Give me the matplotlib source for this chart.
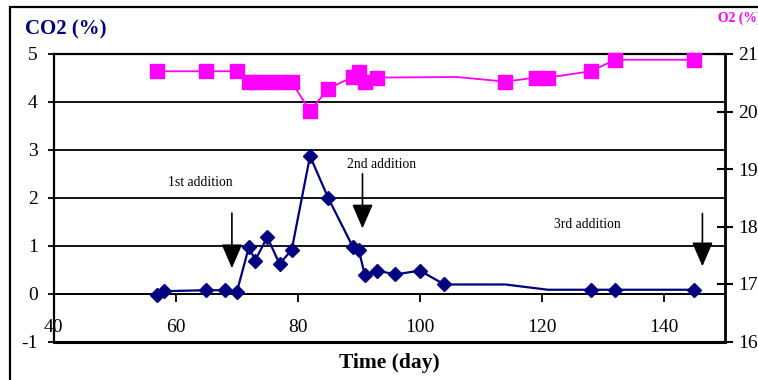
import matplotlib
matplotlib.use("Agg")
import matplotlib.pyplot as plt
from matplotlib.patches import Rectangle

plt.rcParams['font.family'] = ['Liberation Serif', 'DejaVu Serif']
plt.rcParams['axes.unicode_minus'] = False

# ---- data ----
co2_days = [57, 58, 65, 68, 70, 72, 73, 75, 77, 79, 82, 85, 89, 90, 91, 93, 96, 100, 104, 114, 121, 128, 132, 145]
co2_vals = [-0.03, 0.05, 0.07, 0.07, 0.03, 0.98, 0.69, 1.18, 0.62, 0.91, 2.87, 1.99, 0.98, 0.90, 0.38, 0.48,
            0.40, 0.48, 0.19, 0.19, 0.08, 0.08, 0.08, 0.08]
co2_marked = [True] * 19 + [False, False] + [True] * 3

o2_days = [57, 65, 70, 72, 73, 75, 77, 79, 82, 85, 89, 90, 91, 93, 106, 114, 119, 121, 128, 132, 145]
o2_vals = [20.70, 20.70, 20.70, 20.51, 20.51, 20.51, 20.51, 20.51, 20.01, 20.40, 20.60, 20.69, 20.52, 20.59,
           20.60, 20.52, 20.59, 20.59, 20.70, 20.90, 20.90]
o2_marked = [True] * 14 + [False] + [True] * 6

x_ticks = [40, 60, 80, 100, 120, 140]
co2_ticks = [-1, 0, 1, 2, 3, 4, 5]
o2_ticks = [16, 17, 18, 19, 20, 21]

additions = ["1st addition", "2nd addition", "3rd addition"]
add_day = [69.2, 90.6, 146.3]
add_top = [1.68, 2.50, 1.67]
add_tip = [0.53, 1.36, 0.57]
label_x = [64.1, 93.7, 127.5]
label_y = [2.31, 2.69, 1.44]

NAVY = '#000080'
MAGENTA = '#FF00FF'

W, H = 758, 380
fig = plt.figure(figsize=(W / 100, H / 100), dpi=100)
L, R, T, B = 53.7, 725.0, 54.0, 341.5
ax = fig.add_axes([L / W, 1 - B / H, (R - L) / W, (B - T) / H])
ax.set_xlim(40, 150)
ax.set_ylim(-1, 5)
ax.set_axisbelow(True)

# gridlines
ax.set_yticks(co2_ticks)
ax.yaxis.grid(True, color='black', lw=1.3)
ax.xaxis.grid(False)

# spines
ax.spines['bottom'].set_position(('data', 0))
ax.spines['bottom'].set_linewidth(1.3)
ax.spines['left'].set_linewidth(1.6)
ax.spines['top'].set_linewidth(1.6)
ax.spines['right'].set_visible(False)
ax.axhline(-1, color='black', lw=2.2, clip_on=False, zorder=5)

ax.set_xticks(x_ticks)
ax.tick_params(axis='x', direction='out', length=6, width=1.3, pad=12, labelsize=14)
ax.tick_params(axis='y', direction='out', length=4.5, width=1.3, pad=7, labelsize=14)
# hide tick mark at x=40 (on left spine)
ax.xaxis.get_major_ticks()[0].tick1line.set_visible(False)

# CO2 series
mk_co2 = [i for i, m in enumerate(co2_marked) if m]
ax.plot(co2_days, co2_vals, color=NAVY, lw=1.6, marker='D', markersize=7.5,
        markevery=mk_co2, markerfacecolor=NAVY, markeredgecolor=NAVY, zorder=4, clip_on=False)

# annotations
for txt, d, yt, yb, lx, ly in zip(additions, add_day, add_top, add_tip, label_x, label_y):
    ax.annotate('', xy=(d, yb), xytext=(d, yt),
                arrowprops=dict(arrowstyle='-|>,head_length=15,head_width=6.5', mutation_scale=1,
                                color='black', lw=1.2, shrinkA=0, shrinkB=0))
    ax.text(lx, ly, txt, fontsize=9.8, ha='center', va='center')

# O2 axis
ax2 = ax.twinx()
ax2.set_ylim(16, 21)
ax2.set_yticks(o2_ticks)
for s in ['top', 'bottom', 'left']:
    ax2.spines[s].set_visible(False)
ax2.spines['right'].set_linewidth(2.0)
ax2.tick_params(axis='y', direction='inout', length=11, width=1.5, pad=4, labelsize=14)
mk_o2 = [i for i, m in enumerate(o2_marked) if m]
ax2.plot(o2_days, o2_vals, color=MAGENTA, lw=1.3, marker='s', markersize=10.5,
         markevery=mk_o2, markerfacecolor=MAGENTA, markeredgecolor=MAGENTA, zorder=4, clip_on=False)

# titles
fig.text(25 / W, 1 - 29 / H, 'CO2 (%)', fontsize=15, fontweight='bold', color=NAVY, ha='left', va='center')
fig.text(718 / W, 1 - 18 / H, 'O2 (%)', fontsize=9.8, fontweight='bold', color=MAGENTA, ha='left', va='center')
fig.text(389 / W, 1 - 363 / H, 'Time (day)', fontsize=15.5, fontweight='bold', color='black', ha='center', va='center')

# outer border
fig.add_artist(Rectangle((10 / W, -0.1), 1.2, 1.1 - 7 / H, transform=fig.transFigure,
                         fill=False, edgecolor='black', lw=1.6, clip_on=False))

fig.savefig('out.png', dpi=100)
